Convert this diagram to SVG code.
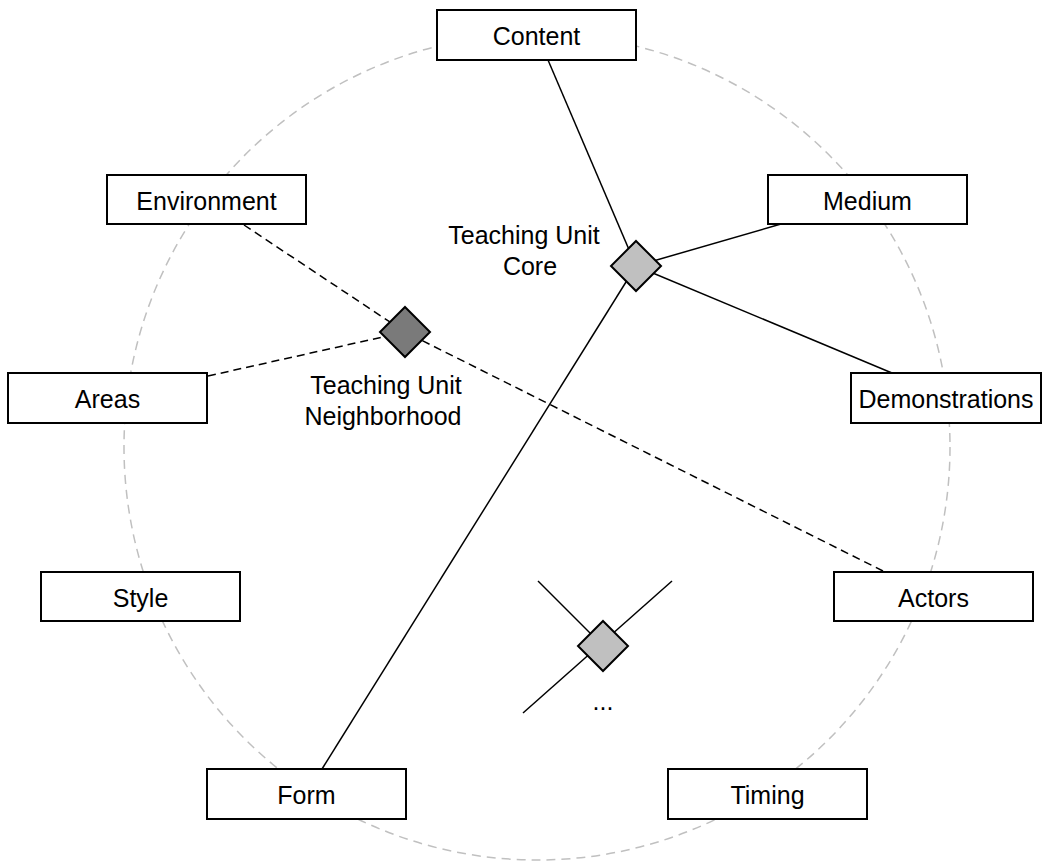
<svg xmlns="http://www.w3.org/2000/svg" width="1046" height="863" viewBox="0 0 1046 863">
<style>
.bg{fill:#ffffff}
.ring{fill:none;stroke:#c0c0c0;stroke-width:1.5;stroke-dasharray:9 6}
.box{fill:#ffffff;stroke:#000000;stroke-width:2}
.lbl{font-family:"Liberation Sans",Arial,sans-serif;font-size:25px;fill:#000000;text-anchor:middle;dominant-baseline:central}
.ann{font-family:"Liberation Sans",Arial,sans-serif;font-size:25px;fill:#000000;text-anchor:middle}
.solid{stroke:#000000;stroke-width:1.5;fill:none}
.dash{stroke:#000000;stroke-width:1.5;fill:none;stroke-dasharray:8 5}
.dlight{fill:#c0c0c0;stroke:#000000;stroke-width:2}
.ddark{fill:#7a7a7a;stroke:#000000;stroke-width:2}
</style>
<rect class="bg" x="0" y="0" width="1046" height="863"/>
<circle class="ring" cx="537" cy="447" r="413"/>
<g id="connectors">
  <line class="solid" x1="548" y1="60" x2="636" y2="266"/>
  <line class="solid" x1="781" y1="224" x2="636" y2="266"/>
  <line class="solid" x1="892" y1="373" x2="636" y2="266"/>
  <line class="solid" x1="322" y1="769" x2="636" y2="266"/>
  <line class="dash" x1="244" y1="225" x2="405" y2="332"/>
  <line class="dash" x1="208" y1="376" x2="405" y2="332"/>
  <line class="dash" x1="883" y1="571" x2="405" y2="332"/>
  <line class="solid" x1="538" y1="581" x2="603" y2="646"/>
  <line class="solid" x1="672" y1="581" x2="523" y2="713"/>
</g>
<g id="core">
  <polygon class="dlight" points="636,241 661,266 636,291 611,266"/>
  <text class="ann"><tspan x="524" y="244">Teaching Unit</tspan><tspan x="530" y="275">Core</tspan></text>
</g>
<g id="neighborhood">
  <polygon class="ddark" points="405,307 430,332 405,357 380,332"/>
  <text class="ann"><tspan x="386" y="394">Teaching Unit</tspan><tspan x="383" y="425">Neighborhood</tspan></text>
</g>
<g id="other">
  <polygon class="dlight" points="603,621 628,646 603,671 578,646"/>
  <text class="ann" x="603" y="710">...</text>
</g>
<g id="content"><rect class="box" x="437" y="10" width="199" height="50"/><text class="lbl" x="536.5" y="36">Content</text></g>
<g id="environment"><rect class="box" x="107" y="175" width="199" height="49"/><text class="lbl" x="206.5" y="200.5">Environment</text></g>
<g id="medium"><rect class="box" x="768" y="175" width="199" height="49"/><text class="lbl" x="867.5" y="200.5">Medium</text></g>
<g id="areas"><rect class="box" x="8" y="373" width="199" height="50"/><text class="lbl" x="107.5" y="399">Areas</text></g>
<g id="demonstrations"><rect class="box" x="851" y="373" width="190" height="50"/><text class="lbl" x="946" y="399">Demonstrations</text></g>
<g id="style"><rect class="box" x="41" y="572" width="199" height="49"/><text class="lbl" x="140.5" y="597.5">Style</text></g>
<g id="actors"><rect class="box" x="834" y="572" width="199" height="49"/><text class="lbl" x="933.5" y="597.5">Actors</text></g>
<g id="form"><rect class="box" x="207" y="769" width="199" height="50"/><text class="lbl" x="306.5" y="795">Form</text></g>
<g id="timing"><rect class="box" x="668" y="769" width="199" height="50"/><text class="lbl" x="767.5" y="795">Timing</text></g>
</svg>
